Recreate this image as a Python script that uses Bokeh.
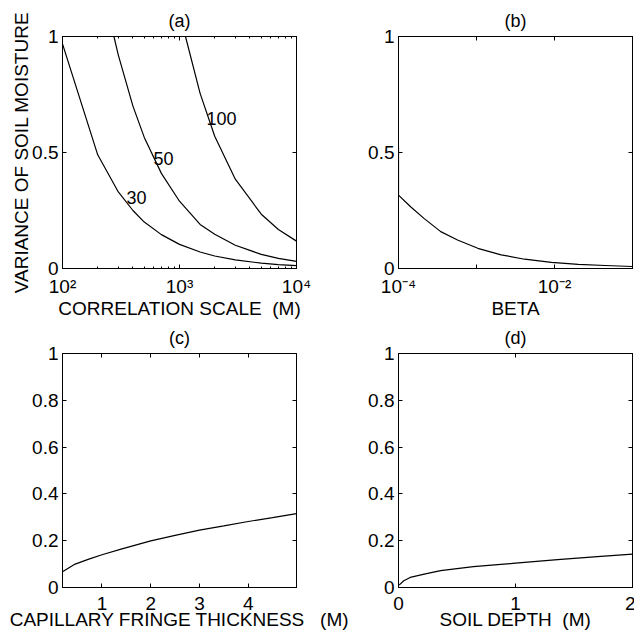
from bokeh.plotting import figure
from bokeh.layouts import row, column
from bokeh.models import (Range1d, FixedTicker, LinearAxis, LogAxis,
                          PrintfTickFormatter, CustomJSTickFormatter)
from bokeh.embed import file_html
from bokeh.resources import INLINE
from bokeh.core.properties import value

FONT = "Liberation Sans"

# ---------------- data ----------------
# (a) variance vs correlation scale, three curves labelled 30, 50, 100
corr_30 = [100, 200, 300, 400, 500, 700, 1000, 1500, 2000, 3000, 5000, 7000, 10000]
var_30 = [0.968, 0.49, 0.33, 0.25, 0.20, 0.146, 0.104, 0.071, 0.054, 0.037, 0.023, 0.017, 0.012]
corr_50 = [275, 300, 400, 500, 700, 1000, 1500, 2000, 3000, 5000, 7000, 10000]
var_50 = [1.0, 0.92, 0.70, 0.565, 0.41, 0.29, 0.19, 0.148, 0.100, 0.061, 0.044, 0.031]
corr_100 = [1125, 1500, 2000, 3000, 5000, 7000, 10000]
var_100 = [1.0, 0.755, 0.57, 0.385, 0.234, 0.168, 0.118]
curve_names = ["30", "50", "100"]

# (b) variance vs beta
beta = [1.0e-4, 1.0e-4, 1.43e-4, 2.12e-4, 3.48e-4, 5.71e-4, 1.04e-3, 2.07e-3,
        4.14e-3, 9.12e-3, 2.02e-2, 4.47e-2, 9.86e-2]
var_beta = [0.52, 0.316, 0.266, 0.216, 0.159, 0.123, 0.087, 0.059,
            0.040, 0.026, 0.018, 0.013, 0.0086]

# (c) variance vs capillary fringe thickness
fringe = [0.19, 0.45, 0.73, 1.0, 1.41, 2.0, 2.5, 3.0, 3.5, 4.0, 4.5, 4.99]
var_fringe = [0.067, 0.100, 0.121, 0.140, 0.165, 0.199, 0.223, 0.245, 0.263, 0.282, 0.299, 0.316]

# (d) variance vs soil depth
depth = [0.005, 0.045, 0.10, 0.22, 0.36, 0.64, 1.0, 1.36, 1.70, 2.0]
var_depth = [0.010, 0.029, 0.043, 0.057, 0.072, 0.089, 0.104, 0.119, 0.132, 0.143]

# tick values
ticks_a_x = [100, 1000, 10000]
minor_a_x = [200, 300, 400, 500, 600, 700, 800, 900,
             2000, 3000, 4000, 5000, 6000, 7000, 8000, 9000]
ticks_b_x = [1e-4, 1e-3, 1e-2, 1e-1]
ticks_ab_y = [0, 0.5, 1]
ticks_cd_y = [0, 0.2, 0.4, 0.6, 0.8, 1]
ticks_c_x = [1, 2, 3, 4]
ticks_d_x = [0, 1, 2]

# label positions for curve names in (a) (data coordinates)
name_pos_x = [352, 600, 1702]
name_pos_y = [0.306, 0.474, 0.647]

NB = "\u00a0"
label_a = "CORRELATION SCALE " + NB + "(M)"
label_b = "BETA"
label_c = "CAPILLARY FRINGE THICKNESS " + NB + NB + "(M)"
label_d = "SOIL DEPTH " + NB + "(M)"
label_y = "VARIANCE OF SOIL MOISTURE"

SUP_CODE = """
const m = {'-':'\u207b','0':'\u2070','1':'\u00b9','2':'\u00b2','3':'\u00b3',
           '4':'\u2074','5':'\u2075','6':'\u2076','7':'\u2077','8':'\u2078','9':'\u2079'};
const e = Math.round(Math.log10(tick));
if (skip.includes(e)) return '';
return '10' + String(e).split('').map(c => m[c]).join('');
"""


def style_axis(ax, size="19px"):
    ax.axis_line_color = "black"
    ax.major_tick_line_color = "black"
    ax.minor_tick_line_color = "black"
    ax.major_tick_in = 4
    ax.major_tick_out = 0
    ax.minor_tick_in = 2
    ax.minor_tick_out = 0
    ax.major_label_text_font = FONT
    ax.major_label_text_font_size = size
    ax.major_label_text_color = "black"
    ax.axis_label_text_font = FONT
    ax.axis_label_text_font_size = "19px"
    ax.axis_label_text_font_style = "normal"
    ax.axis_label_text_color = "black"


def make(title, xtype, xr, xticks, xminor, xfmt, yticks, xlabel, ylabel,
         bl, br, bt, bb, fh, x_std, x_lab_std):
    p = figure(x_axis_type=xtype, x_range=xr, y_range=Range1d(0, 1),
               frame_width=234, frame_height=fh,
               min_border_left=bl, min_border_right=br,
               min_border_top=bt, min_border_bottom=bb,
               output_backend="svg", toolbar_location=None, title=title)
    p.title.align = "center"
    p.title.text_font = FONT
    p.title.text_font_size = "18px"
    p.title.text_font_style = "normal"
    p.title.text_color = "black"
    p.title.standoff = 4
    p.xgrid.visible = False
    p.ygrid.visible = False
    p.outline_line_color = "black"
    p.background_fill_color = "white"
    p.border_fill_color = "white"

    xa = p.xaxis[0]
    ya = p.yaxis[0]
    style_axis(xa)
    style_axis(ya)
    xa.ticker = FixedTicker(ticks=xticks, minor_ticks=xminor)
    xa.formatter = xfmt
    xa.major_label_standoff = x_std
    xa.axis_label = xlabel
    xa.axis_label_standoff = x_lab_std
    ya.ticker = FixedTicker(ticks=yticks, minor_ticks=[])
    ya.formatter = PrintfTickFormatter(format="%g")
    ya.major_label_standoff = 4
    if ylabel:
        ya.axis_label = ylabel
        ya.axis_label_standoff = -3

    top = LogAxis() if xtype == "log" else LinearAxis()
    right = LinearAxis()
    for ax, tk, mn in ((top, xticks, xminor), (right, yticks, [])):
        style_axis(ax, "1px")
        ax.ticker = FixedTicker(ticks=tk, minor_ticks=mn)
        ax.formatter = CustomJSTickFormatter(code="return ' ';")
        ax.major_label_standoff = 0
    p.add_layout(top, "above")
    p.add_layout(right, "right")
    return p


fa = make("(a)", "log", Range1d(100, 10000), ticks_a_x, minor_a_x,
          CustomJSTickFormatter(args=dict(skip=[]), code=SUP_CODE),
          ticks_ab_y, label_a, label_y,
          62, 26, 36, 46, 232, 7, -2)
for xs, ys in ((corr_30, var_30), (corr_50, var_50), (corr_100, var_100)):
    fa.line(xs, ys, line_color="black", line_width=1.2)
fa.text(x=name_pos_x, y=name_pos_y, text=curve_names, text_font=value(FONT),
        text_font_size="18px", text_baseline="middle", text_align="left",
        text_color="black")

fb = make("(b)", "log", Range1d(1e-4, 1e-1), ticks_b_x, [],
          CustomJSTickFormatter(args=dict(skip=[-3, -1]), code=SUP_CODE),
          ticks_ab_y, label_b, None, 76, 2, 36, 46, 232, 7, -2)
fb.line(beta, var_beta, line_color="black", line_width=1.2)

fc = make("(c)", "linear", Range1d(0.19, 4.99), ticks_c_x, [],
          PrintfTickFormatter(format="%g"), ticks_cd_y,
          label_c, None, 62, 66, 32, 48, 234, 9, -4)
fc.line(fringe, var_fringe, line_color="black", line_width=1.2)

fd = make("(d)", "linear", Range1d(0, 2), ticks_d_x, [],
          PrintfTickFormatter(format="%g"), ticks_cd_y,
          label_d, None, 36, 2, 32, 48, 234, 9, -4)
fd.line(depth, var_depth, line_color="black", line_width=1.2)

layout = column(row(fa, fb), row(fc, fd))
open("out.html", "w").write(file_html(layout, INLINE))
